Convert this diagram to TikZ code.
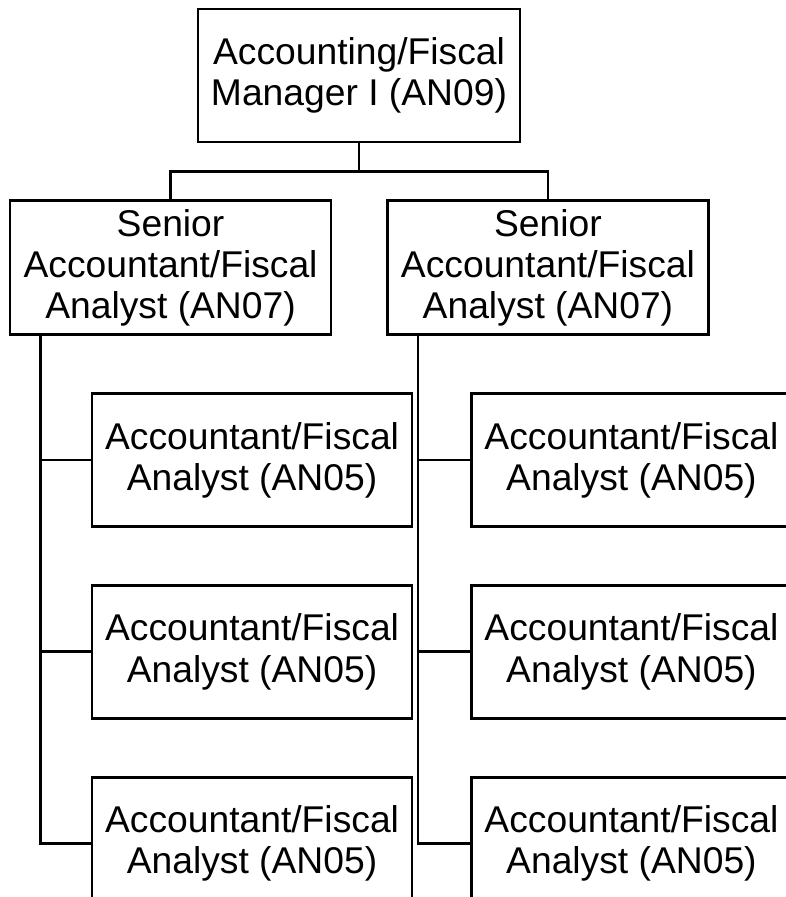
\documentclass[tikz,border=0pt]{standalone}
\usepackage{fontspec}
\setmainfont{Liberation Sans}
\usetikzlibrary{positioning}

\tikzset{
    post/.style={draw, line width=1.6pt, align=center, inner sep=2pt,
        font=\fontsize{21.2}{23.4}\selectfont},
    manager/.style={post, minimum width=6.44cm, minimum height=2.66cm},
    senior/.style={post, minimum width=6.42cm, minimum height=2.68cm},
    staff/.style={post, minimum width=6.4cm, minimum height=2.66cm},
    link/.style={line width=1.6pt}
}

\begin{document}
\begin{tikzpicture}[x=0.02cm, y=-0.02cm, node distance=1.12cm]

    \useasboundingbox (0,0) rectangle (786,897);

    \node[manager] (mgr) at (359,75.5) {Accounting/Fiscal\\Manager I (AN09)};
    \node[senior] (sa) [below=of mgr, xshift=-3.77cm] {Senior\\Accountant/Fiscal\\Analyst (AN07)};
    \node[senior] (sb) [below=of mgr, xshift=3.78cm] {Senior\\Accountant/Fiscal\\Analyst (AN07)};

    \node[staff] (a1) [below=of sa, xshift=1.63cm] {Accountant/Fiscal\\Analyst (AN05)};
    \node[staff] (a2) [below=of a1] {Accountant/Fiscal\\Analyst (AN05)};
    \node[staff] (a3) [below=of a2] {Accountant/Fiscal\\Analyst (AN05)};
    % right column runs off the page edge
    \node[staff] (b1) [below=of sb, xshift=1.67cm] {Accountant/Fiscal\\Analyst (AN05)};
    \node[staff] (b2) [below=of b1] {Accountant/Fiscal\\Analyst (AN05)};
    \node[staff] (b3) [below=of b2] {Accountant/Fiscal\\Analyst (AN05)};

    \coordinate (sa-foot) at ([xshift=0.64cm]sa.south west);
    \coordinate (sb-foot) at ([xshift=0.64cm]sb.south west);

    \draw[link] (sa.north) -- ++(0,-28) -| (mgr.south);
    \draw[link] (sb.north) -- ++(0,-28) -| (mgr.south);

    \foreach \i in {1,2,3} {
        \draw[link] (sa-foot) |- (a\i.west);
        \draw[link] (sb-foot) |- (b\i.west);
    }

\end{tikzpicture}
\end{document}
